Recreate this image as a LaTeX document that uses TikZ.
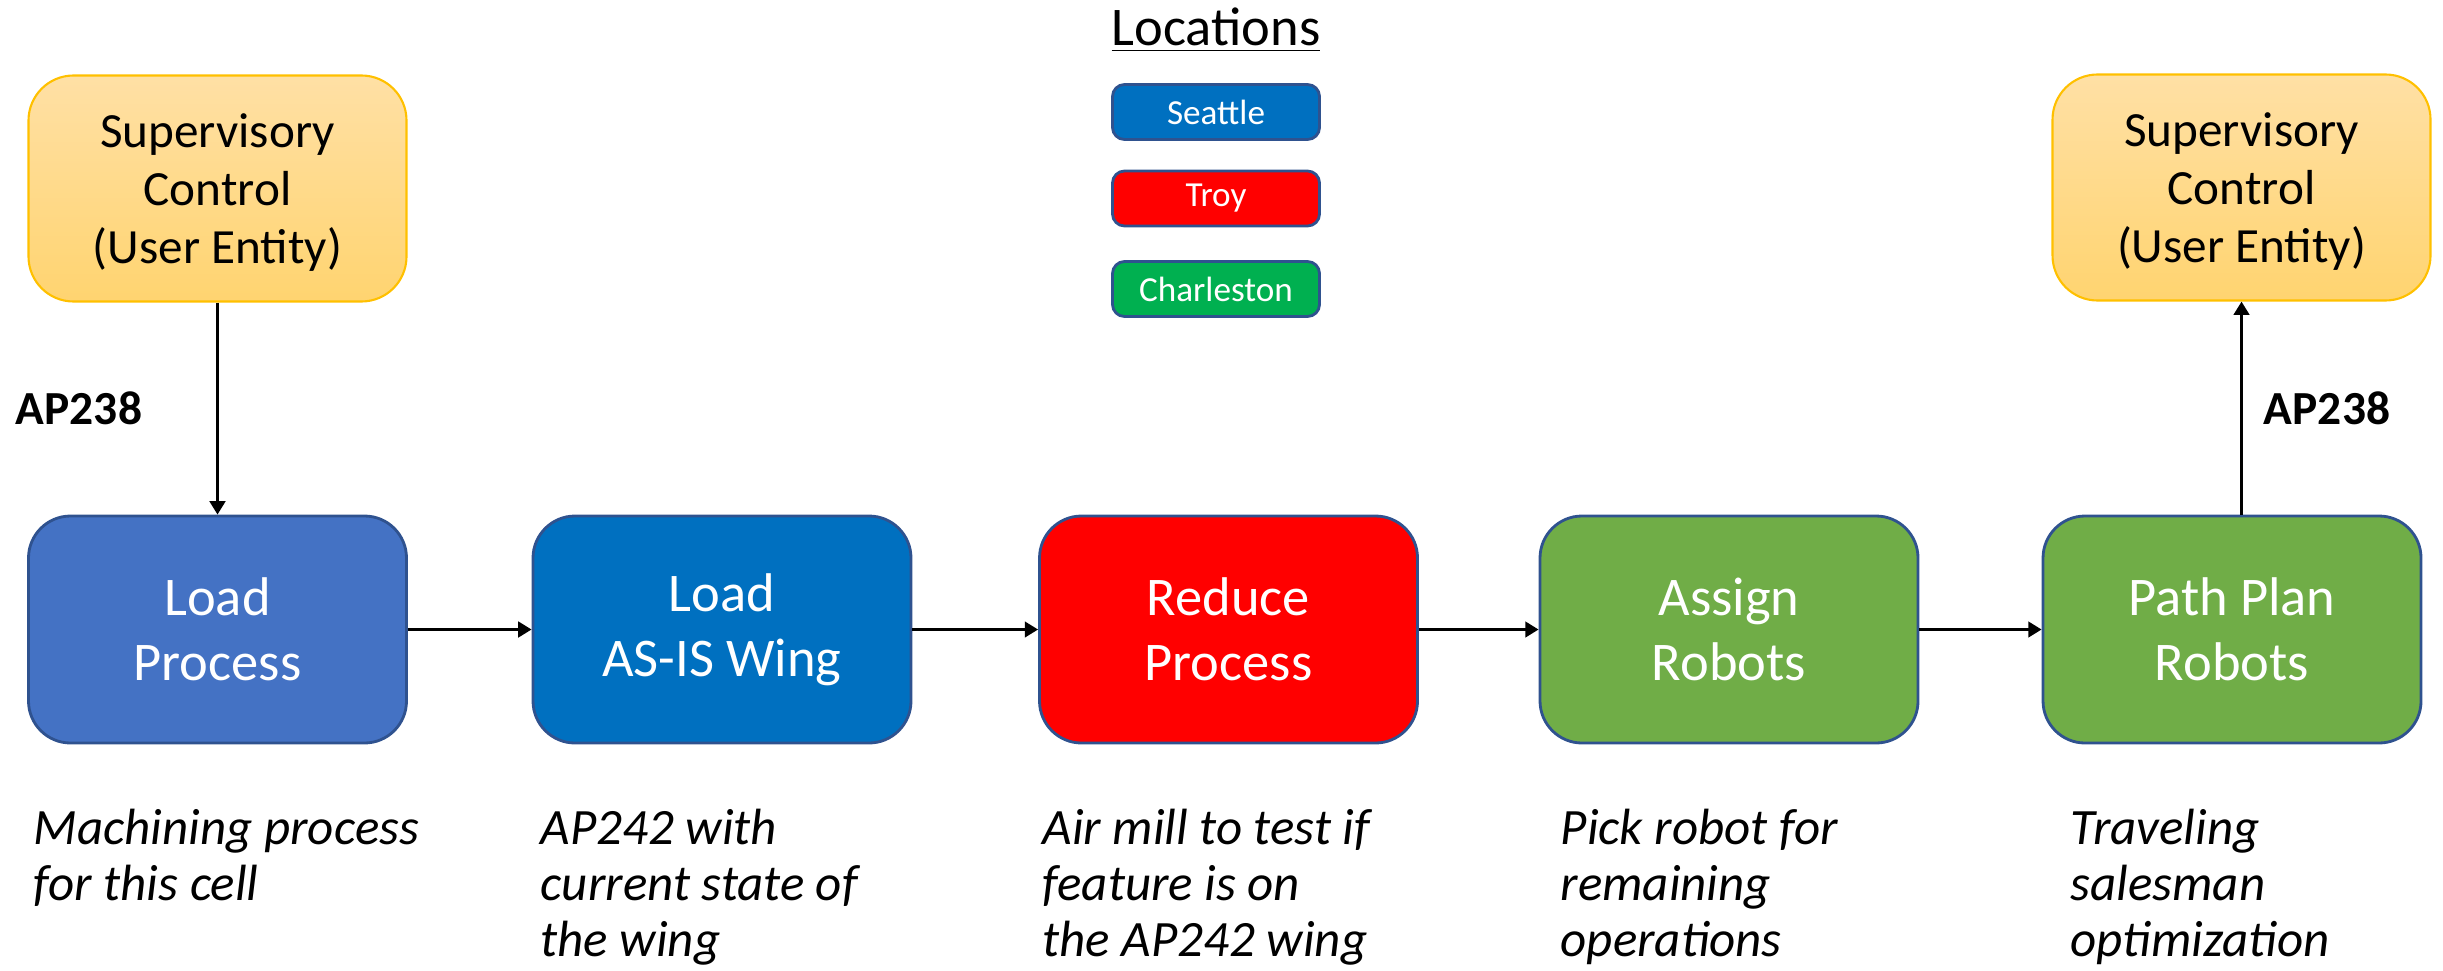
\documentclass[tikz,border=0pt]{standalone}
\usepackage{fontspec}
\setmainfont{Carlito}
\usepackage{tikz}
\usetikzlibrary{arrows.meta}
\definecolor{suptop}{RGB}{255,224,165}
\definecolor{supbot}{RGB}{255,212,112}
\definecolor{supline}{RGB}{255,192,0}
\definecolor{procline}{RGB}{47,82,143}
\definecolor{loadblue}{RGB}{68,114,196}
\definecolor{seattle}{RGB}{0,112,192}
\definecolor{troy}{RGB}{255,0,0}
\definecolor{robotgreen}{RGB}{112,173,71}
\definecolor{charleston}{RGB}{0,176,80}

\begin{document}
\begin{tikzpicture}[
    sup/.style={draw=supline, line width=0.6pt, rounded corners=0.45cm,
      top color=suptop, bottom color=supbot,
      minimum width=3.78cm, minimum height=2.26cm, align=center,
      text depth=0pt, font=\fontsize{14}{16.5}\selectfont},
    proc/.style={draw=procline, line width=0.8pt, rounded corners=0.42cm,
      minimum width=3.78cm, minimum height=2.27cm, align=center, text=white,
      font=\fontsize{15.5}{18.5}\selectfont},
    loc/.style={draw=procline, line width=0.8pt, rounded corners=0.12cm,
      minimum width=2.07cm, minimum height=0.55cm, text=white,
      font=\fontsize{10}{12}\selectfont},
    note/.style={anchor=north west, align=left, inner sep=0pt,
      font=\itshape\fontsize{14.5}{16}\selectfont},
    flow/.style={-{Triangle[length=3.8pt,width=4.4pt]}, line width=0.85pt}]
      \useasboundingbox (0,0) rectangle (24.43,-9.70);

      % legend
      \node[anchor=base, font=\fontsize{15.5}{18}\selectfont] (loctitle) at (12.16,-0.45) {\underline{Locations}};
      \node[loc, fill=seattle] (seattle) at (12.16,-1.12) {Seattle};
      \node[loc, fill=troy] (troy) at (12.16,-1.985) {Troy};
      \node[loc, fill=charleston] (charleston) at (12.16,-2.89) {Charleston};

      % supervisory control
      \node[sup] (supL) at (2.175,-1.885) {Supervisory\\Control\\(User Entity)};
      \node[sup] (supR) at (22.415,-1.875) {Supervisory\\Control\\(User Entity)};

      % process chain
      \node[proc, fill=loadblue] (load) at (2.175,-6.295) {Load\\Process};
      \node[proc, fill=seattle] (wing) at (7.22,-6.295) {Load\\AS-IS Wing};
      \node[proc, fill=troy] (reduce) at (12.285,-6.295) {Reduce\\Process};
      \node[proc, fill=robotgreen] (assign) at (17.29,-6.295) {Assign\\Robots};
      \node[proc, fill=robotgreen] (plan) at (22.32,-6.295) {Path Plan\\Robots};

      \draw[flow] (supL.south) -- (load.north);
      \draw[flow] (plan.north -| supR) -- (supR.south);
      \foreach \a/\b in {load/wing, wing/reduce, reduce/assign, assign/plan} {
        \draw[flow] (\a) -- (\b);
      }

      \node[font=\bfseries\fontsize{13.5}{16}\selectfont] (apL) at (0.79,-4.08) {AP238};
      \node[font=\bfseries\fontsize{13.5}{16}\selectfont] (apR) at (23.27,-4.08) {AP238};

      % notes under the boxes
      \node[note] (noteload) at (0.33,-8.08) {Machining process\\for this cell};
      \node[note] (notewing) at (5.40,-8.08) {AP242 with\\current state of\\the wing};
      \node[note] (notereduce) at (10.42,-8.08) {Air mill to test if\\feature is on\\the AP242 wing};
      \node[note] (noteassign) at (15.60,-8.08) {Pick robot for\\remaining\\operations};
      \node[note] (noteplan) at (20.70,-8.08) {Traveling\\salesman\\optimization};
    \end{tikzpicture}
\end{document}
